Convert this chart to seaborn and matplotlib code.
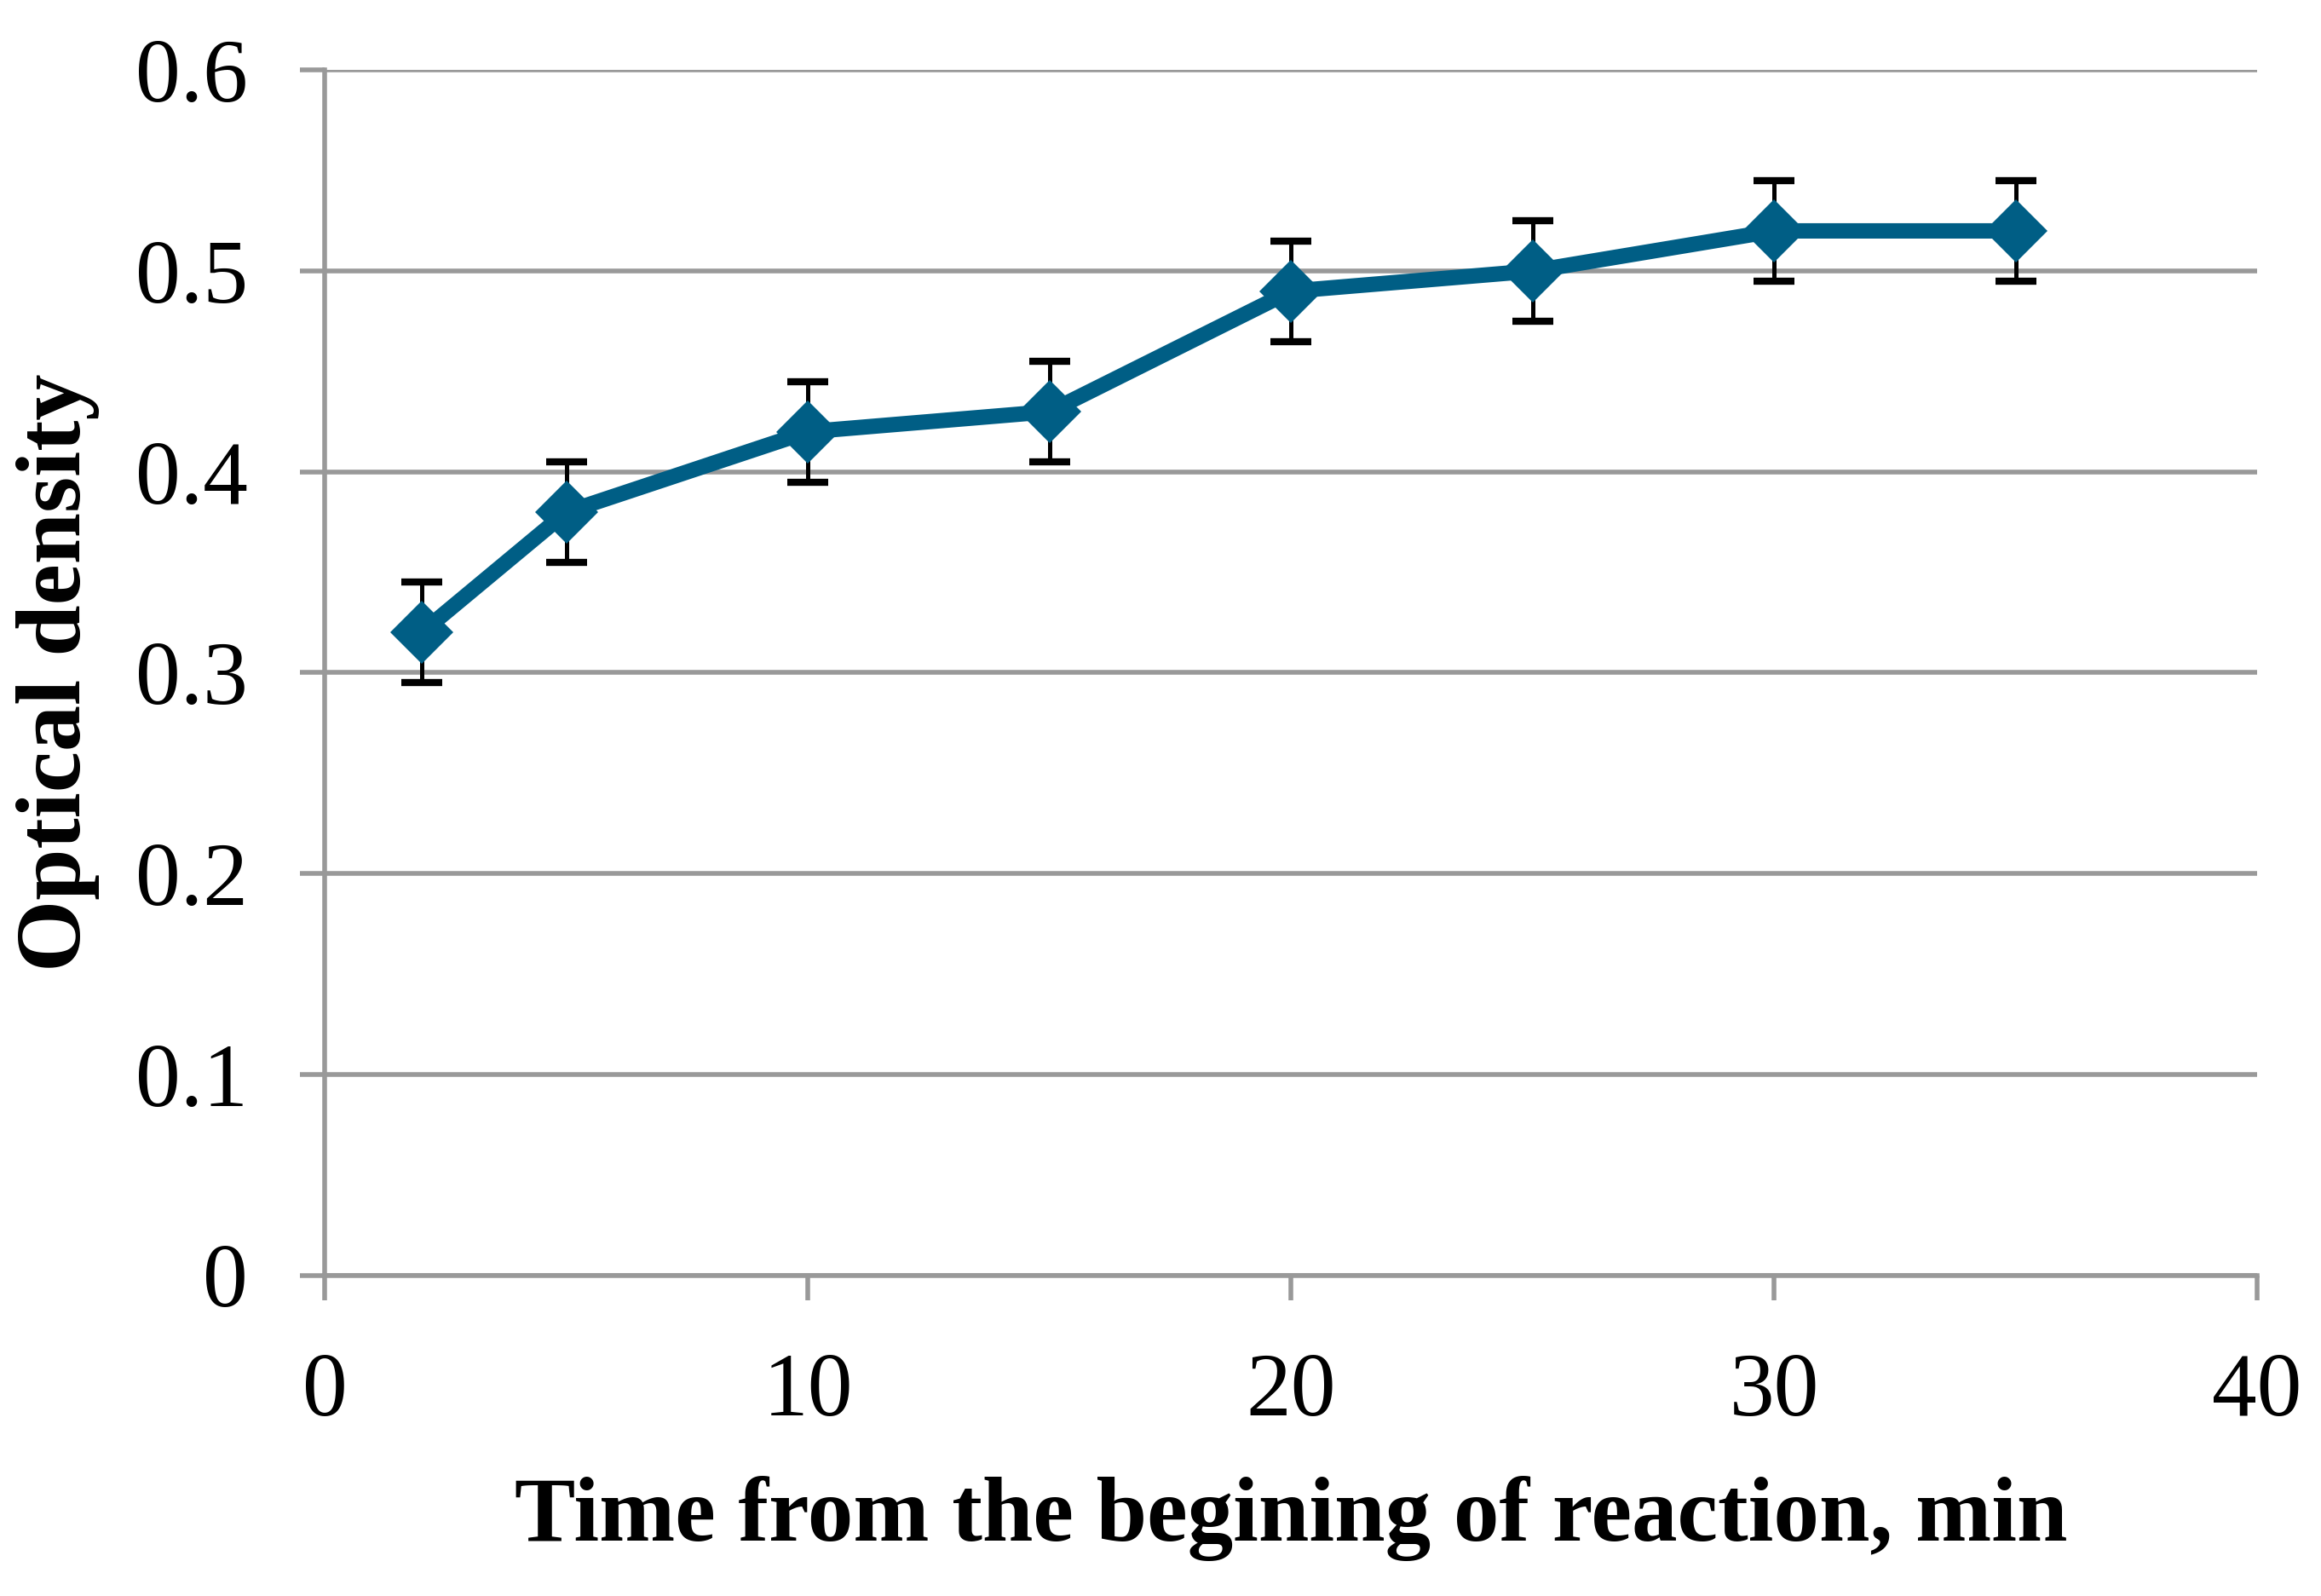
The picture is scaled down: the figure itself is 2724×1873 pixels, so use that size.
import seaborn as sns
import numpy as np
import matplotlib.pyplot as plt
import pandas as pd

sns.set_theme(style="white")
plt.rcParams["font.family"] = ["Liberation Serif", "DejaVu Serif"]

# data
time_min = [2, 5, 10, 15, 20, 25, 30, 35]
optical_density = [0.32, 0.38, 0.42, 0.43, 0.49, 0.50, 0.52, 0.52]
od_error = [0.025, 0.025, 0.025, 0.025, 0.025, 0.025, 0.025, 0.025]

x_ticks = [0, 10, 20, 30, 40]
y_ticks = [0, 0.1, 0.2, 0.3, 0.4, 0.5, 0.6]

line_color = "#005E85"
grid_color = "#999999"

df = pd.DataFrame({"time": time_min, "od": optical_density, "err": od_error})

fig, ax = plt.subplots(figsize=(13.62, 9.365), dpi=200)
fig.subplots_adjust(left=0.140, right=0.9725, bottom=0.201, top=0.956)

ax.errorbar(
    df.time, df.od, yerr=df.err, fmt="none",
    ecolor="black", elinewidth=1.8, capsize=8.5, capthick=3, zorder=2,
)
sns.lineplot(
    x="time", y="od", data=df, ax=ax,
    color=line_color, lw=6.5, marker="D", markersize=19,
    markeredgewidth=0, zorder=3,
)

ax.set_xlim(0, 40)
ax.set_ylim(0, 0.6)
ax.set_xticks(x_ticks)
ax.set_yticks(y_ticks)
ax.set_xticklabels([str(t) for t in x_ticks])
ax.set_yticklabels(["0"] + [f"{t:.1f}" for t in y_ticks[1:]])

ax.yaxis.grid(True, color=grid_color, lw=2)
ax.xaxis.grid(False)
ax.set_axisbelow(True)

for side in ["top", "right"]:
    ax.spines[side].set_visible(False)
for side in ["left", "bottom"]:
    ax.spines[side].set_color(grid_color)
    ax.spines[side].set_linewidth(2)

ax.tick_params(
    axis="both", which="major", direction="out", length=10.6, width=2,
    color=grid_color, labelsize=38, labelcolor="black", pad=22,
    bottom=True, left=True,
)

ax.set_xlabel("Time from the begining of reaction, min",
              fontsize=38.5, fontweight="bold", color="black")
ax.set_ylabel("Optical density", fontsize=39, fontweight="bold", color="black")
ax.xaxis.label.set_va("center")
ax.yaxis.label.set_va("center")
ax.xaxis.set_label_coords(0.5, -0.2016)
ax.yaxis.set_label_coords(-0.138, 0.5)

plt.savefig("out.png", dpi=200, facecolor="white")
